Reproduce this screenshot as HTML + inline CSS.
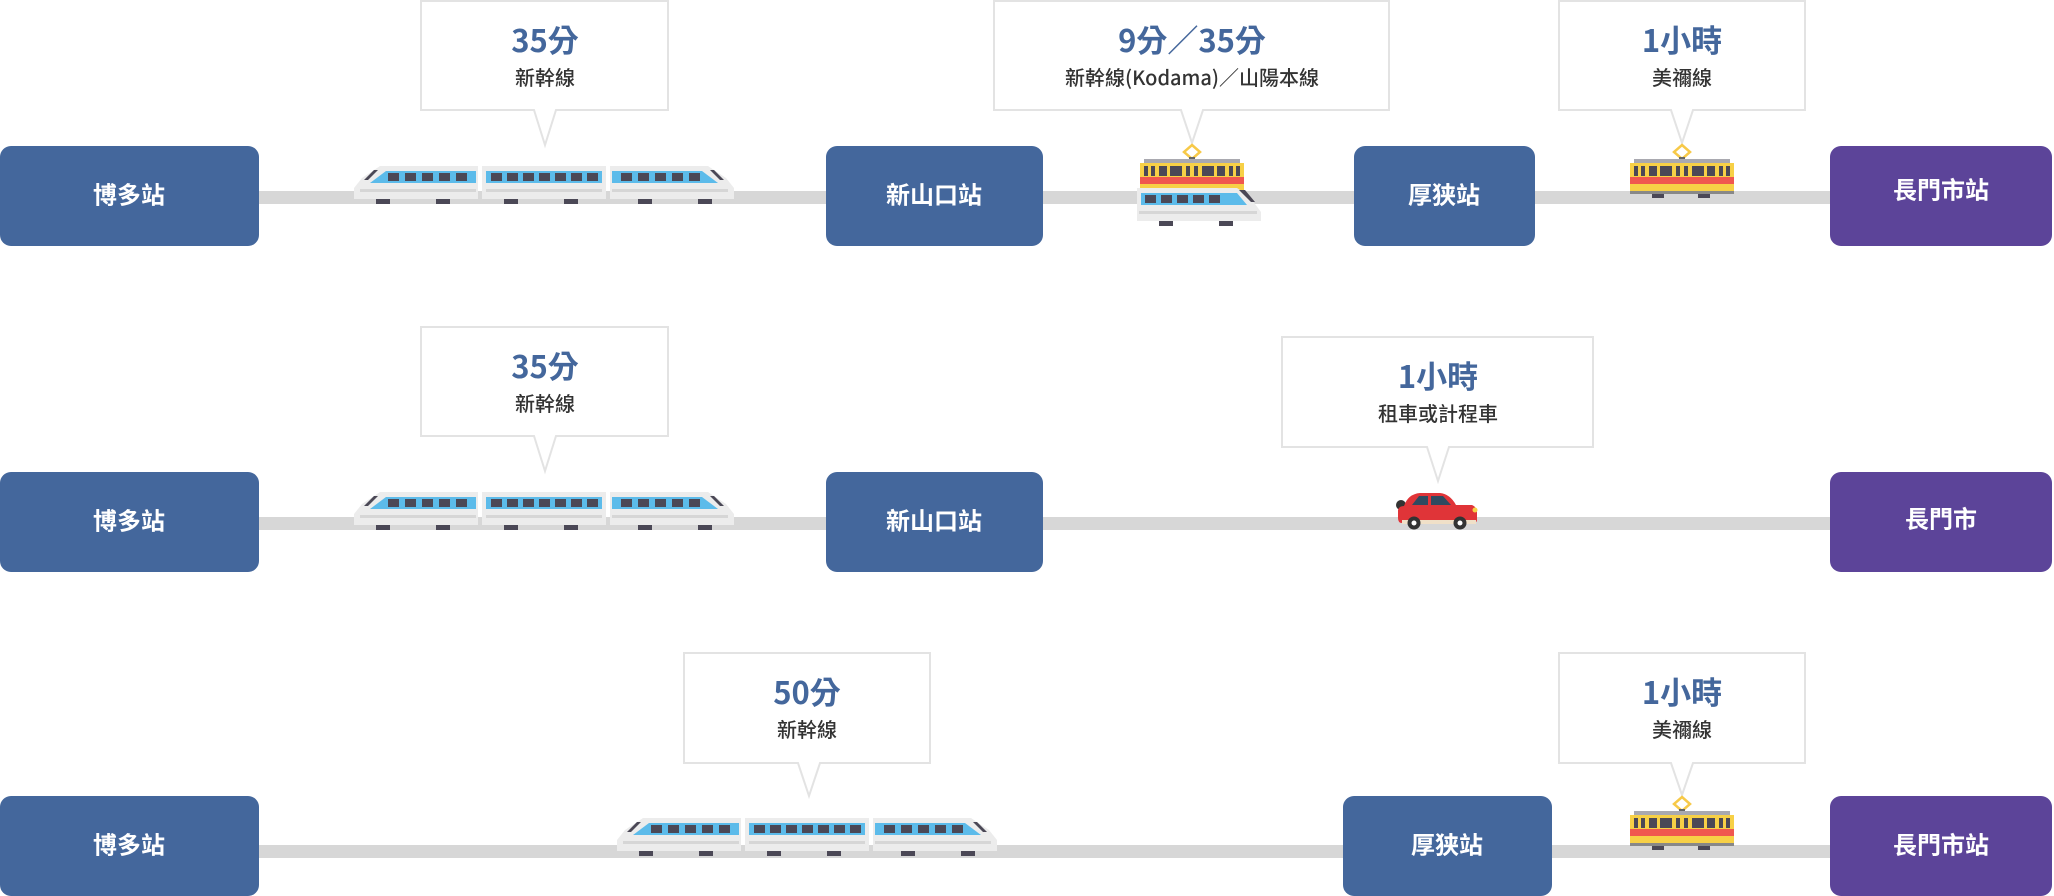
<!DOCTYPE html>
<html><head><meta charset="utf-8"><style>
html,body{margin:0;padding:0;background:#fff;width:2054px;height:896px;overflow:hidden}
svg{display:block}
.st{font-family:"Liberation Sans","Noto Sans CJK TC",sans-serif;font-size:24px;font-weight:bold;fill:#fff;text-anchor:middle;dominant-baseline:central}
.big{font-family:"Noto Sans CJK TC","Liberation Sans",sans-serif;font-size:31px;font-weight:bold;fill:#44679c;text-anchor:middle}
.sm{font-family:"Noto Sans CJK TC","Liberation Sans",sans-serif;font-size:20px;font-weight:500;fill:#333;text-anchor:middle}
</style></head><body>
<svg width="2054" height="896" viewBox="0 0 2054 896" xmlns="http://www.w3.org/2000/svg">
<defs>
<g id="car1">
 <polygon points="8,14 26,2 124,2 124,35 0,35 0,24" fill="#ececec"/>
 <polygon points="20,16 32,7 122,7 122,19 16,19" fill="#5cbbea"/>
 <rect x="34" y="9" width="11" height="8" fill="#4b4856"/><rect x="51" y="9" width="11" height="8" fill="#4b4856"/><rect x="68" y="9" width="11" height="8" fill="#4b4856"/><rect x="85" y="9" width="11" height="8" fill="#4b4856"/><rect x="102" y="9" width="11" height="8" fill="#4b4856"/>
 <polygon points="10,16 20,6 24,6 14,16" fill="#4b4856"/>
 <rect x="6" y="25" width="116" height="3" fill="#d6d6d6"/>
 <rect x="22" y="35" width="14" height="5" fill="#4b4856"/><rect x="82" y="35" width="14" height="5" fill="#4b4856"/>
</g>
<g id="train">
 <use href="#car1"/>
 <g transform="translate(128,0)">
  <rect x="0" y="2" width="124" height="33" fill="#ececec"/>
  <rect x="4" y="7" width="116" height="12" fill="#5cbbea"/>
  <rect x="9" y="9" width="11" height="8" fill="#4b4856"/><rect x="25" y="9" width="11" height="8" fill="#4b4856"/><rect x="41" y="9" width="11" height="8" fill="#4b4856"/><rect x="57" y="9" width="11" height="8" fill="#4b4856"/><rect x="73" y="9" width="11" height="8" fill="#4b4856"/><rect x="89" y="9" width="11" height="8" fill="#4b4856"/><rect x="105" y="9" width="11" height="8" fill="#4b4856"/>
  <rect x="4" y="25" width="116" height="3" fill="#d6d6d6"/>
  <rect x="22" y="35" width="14" height="5" fill="#4b4856"/><rect x="82" y="35" width="14" height="5" fill="#4b4856"/>
 </g>
 <use href="#car1" transform="translate(380,0) scale(-1,1)"/>
</g>
<g id="tram">
 <polygon points="54,2 62,9 54,16 46,9" fill="none" stroke="#f7c948" stroke-width="2.5"/>
 <rect x="51" y="14" width="6" height="4" fill="#666"/>
 <rect x="6" y="16" width="96" height="4" fill="#a9a9b0"/>
 <rect x="2" y="20" width="104" height="28" fill="#f7d046"/>
 <rect x="2" y="34" width="104" height="7" fill="#f0574f"/>
 <rect x="6" y="23" width="4" height="10" fill="#4b4856"/><rect x="13" y="23" width="4" height="10" fill="#4b4856"/><rect x="21" y="23" width="8" height="10" fill="#4b4856"/><rect x="32" y="23" width="12" height="10" fill="#4b4856"/><rect x="48" y="23" width="4" height="10" fill="#4b4856"/><rect x="56" y="23" width="4" height="10" fill="#4b4856"/><rect x="64" y="23" width="12" height="10" fill="#4b4856"/><rect x="79" y="23" width="8" height="10" fill="#4b4856"/><rect x="91" y="23" width="4" height="10" fill="#4b4856"/><rect x="98" y="23" width="4" height="10" fill="#4b4856"/>
 <rect x="2" y="48" width="104" height="3" fill="#888"/>
 <rect x="24" y="51" width="12" height="4" fill="#4b4856"/><rect x="70" y="51" width="12" height="4" fill="#4b4856"/>
</g>
</defs>

<rect x="259" y="191" width="1572" height="13" fill="#d7d7d7"/>
<rect x="259" y="517" width="1572" height="13" fill="#d7d7d7"/>
<rect x="259" y="845" width="1572" height="13" fill="#d7d7d7"/>

<g fill="#fff" stroke="#e3e3e3" stroke-width="2">
 <path d="M421,1 H668 V110 H556 L545,145 L534,110 H421 Z"/>
 <path d="M994,1 H1389 V110 H1203 L1192,143 L1181,110 H994 Z"/>
 <path d="M1559,1 H1805 V110 H1693 L1682,143 L1671,110 H1559 Z"/>
 <path d="M421,327 H668 V436 H556 L545,471 L534,436 H421 Z"/>
 <path d="M1282,337 H1593 V447 H1449 L1438,481 L1427,447 H1282 Z"/>
 <path d="M684,653 H930 V763 H820 L809,796 L798,763 H684 Z"/>
 <path d="M1559,653 H1805 V763 H1693 L1682,795 L1671,763 H1559 Z"/>
</g>
<text class="big" x="545" y="52">35分</text><text class="sm" x="545" y="85">新幹線</text>
<text class="big" x="1192" y="52">9分／35分</text><text class="sm" x="1192" y="85">新幹線(Kodama)／山陽本線</text>
<text class="big" x="1682" y="52">1小時</text><text class="sm" x="1682" y="85">美禰線</text>
<text class="big" x="545" y="378">35分</text><text class="sm" x="545" y="411">新幹線</text>
<text class="big" x="1438" y="388">1小時</text><text class="sm" x="1438" y="421">租車或計程車</text>
<text class="big" x="807" y="704">50分</text><text class="sm" x="807" y="737">新幹線</text>
<text class="big" x="1682" y="704">1小時</text><text class="sm" x="1682" y="737">美禰線</text>

<use href="#train" transform="translate(354,164)"/>
<use href="#train" transform="translate(354,490)"/>
<use href="#train" transform="translate(617,816)"/>
<use href="#tram" transform="translate(1138,143)"/>
<g transform="translate(1137,186)">
 <polygon points="0,2 100,2 112,10 124,26 124,35 0,35" fill="#ececec"/>
 <polygon points="4,7 100,7 110,19 4,19" fill="#5cbbea"/>
 <rect x="8" y="9" width="11" height="8" fill="#4b4856"/><rect x="24" y="9" width="11" height="8" fill="#4b4856"/><rect x="40" y="9" width="11" height="8" fill="#4b4856"/><rect x="56" y="9" width="11" height="8" fill="#4b4856"/><rect x="72" y="9" width="11" height="8" fill="#4b4856"/>
 <polygon points="102,4 108,4 118,16 114,16" fill="#4b4856"/>
 <rect x="2" y="25" width="118" height="3" fill="#d6d6d6"/>
 <rect x="22" y="35" width="14" height="5" fill="#4b4856"/><rect x="82" y="35" width="14" height="5" fill="#4b4856"/>
</g>
<use href="#tram" transform="translate(1628,143)"/>
<use href="#tram" transform="translate(1628,795)"/>
<g>
 <circle cx="1401" cy="505" r="5" fill="#333"/>
 <path d="M1404,506 Q1408,494 1420,493 H1440 Q1450,494 1456,505 H1472 Q1477,507 1477,513 V520 Q1477,523 1472,523 H1402 Q1398,523 1398,518 V510 Q1399,506 1404,506 Z" fill="#e03438"/>
 <polygon points="1412,505 1419,496 1428,496 1428,505" fill="#2f4a60"/>
 <polygon points="1431,505 1431,496 1443,496 1451,505" fill="#2f4a60"/>
 <rect x="1402" y="520" width="74" height="4" fill="#f0e0c8"/>
 <circle cx="1475" cy="510" r="2.5" fill="#f7d046"/>
 <circle cx="1414" cy="523" r="6.5" fill="#333"/><circle cx="1414" cy="523" r="2.5" fill="#fff"/>
 <circle cx="1460" cy="523" r="6.5" fill="#333"/><circle cx="1460" cy="523" r="2.5" fill="#fff"/>
</g>

<g fill="#44679c">
 <rect x="0" y="146" width="259" height="100" rx="11"/>
 <rect x="826" y="146" width="217" height="100" rx="11"/>
 <rect x="1354" y="146" width="181" height="100" rx="11"/>
 <rect x="0" y="472" width="259" height="100" rx="11"/>
 <rect x="826" y="472" width="217" height="100" rx="11"/>
 <rect x="0" y="796" width="259" height="100" rx="11"/>
 <rect x="1343" y="796" width="209" height="100" rx="11"/>
</g>
<g fill="#5c4499">
 <rect x="1830" y="146" width="222" height="100" rx="11"/>
 <rect x="1830" y="472" width="222" height="100" rx="11"/>
 <rect x="1830" y="796" width="222" height="100" rx="11"/>
</g>
<text class="st" x="129" y="196">博多站</text>
<text class="st" x="934" y="196">新山口站</text>
<text class="st" x="1444" y="196">厚狭站</text>
<text class="st" x="1941" y="191">長門市站</text>
<text class="st" x="129" y="522">博多站</text>
<text class="st" x="934" y="522">新山口站</text>
<text class="st" x="1941" y="520">長門市</text>
<text class="st" x="129" y="846">博多站</text>
<text class="st" x="1447" y="846">厚狭站</text>
<text class="st" x="1941" y="846">長門市站</text>
</svg>
</body></html>
